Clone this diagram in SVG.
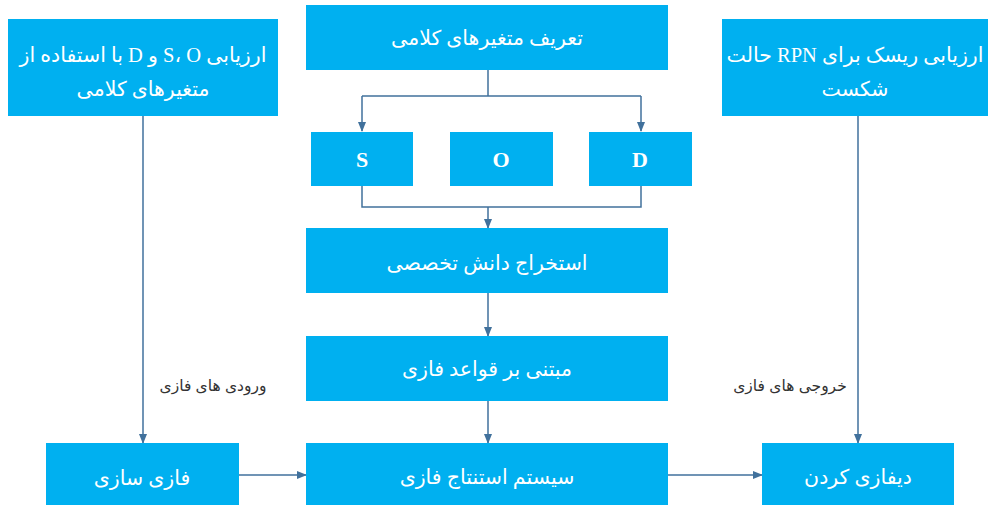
<svg xmlns="http://www.w3.org/2000/svg" width="990" height="507" viewBox="0 0 990 507">
<defs>
<marker id="ah" markerWidth="10" markerHeight="8" refX="9" refY="4" orient="auto" markerUnits="userSpaceOnUse">
<path d="M0,0 L10,4 L0,8 Z" fill="#41719c"/>
</marker>
<style>
.box{fill:#00b0f0;}
.t{font-family:"Liberation Serif","DejaVu Sans",serif;font-size:20.5px;fill:#ffffff;text-anchor:middle;direction:rtl;}
.l{font-family:"Liberation Sans","DejaVu Sans",sans-serif;font-size:15.5px;fill:#333333;text-anchor:middle;direction:rtl;}
.ltr{font-family:"Liberation Serif",serif;font-size:22px;font-weight:bold;fill:#ffffff;text-anchor:middle;}
.c{fill:none;stroke:#41719c;stroke-width:1.5;}
</style>
</defs>
<rect width="990" height="507" fill="#ffffff"/>
<g id="connectors">
<path class="c" d="M488,70 V96 M362,96 H641"/>
<path class="c" d="M362,96 V131" marker-end="url(#ah)"/>
<path class="c" d="M641,96 V131" marker-end="url(#ah)"/>
<path class="c" d="M362,186 V207 H641 V186"/>
<path class="c" d="M488,207 V228" marker-end="url(#ah)"/>
<path class="c" d="M488,293 V336" marker-end="url(#ah)"/>
<path class="c" d="M488,401 V443" marker-end="url(#ah)"/>
<path class="c" d="M143,116 V443" marker-end="url(#ah)"/>
<path class="c" d="M858,116 V443" marker-end="url(#ah)"/>
<path class="c" d="M239,475 H306" marker-end="url(#ah)"/>
<path class="c" d="M668,475 H762" marker-end="url(#ah)"/>
<text class="l" x="213" y="391">ورودی های فازی</text>
<text class="l" x="790" y="391">خروجی های فازی</text>
</g>
<g id="n-eval-sod">
<rect class="box" x="8" y="19" width="270" height="97"/>
<text class="t" x="143" y="62">ارزیابی S، O و D با استفاده از</text>
<text class="t" x="143" y="96">متغیرهای کلامی</text>
</g>
<g id="n-rpn">
<rect class="box" x="722" y="19" width="266" height="97"/>
<text class="t" x="855" y="62">ارزیابی ریسک برای RPN حالت</text>
<text class="t" x="855" y="96">شکست</text>
</g>
<g id="n-define">
<rect class="box" x="306" y="5" width="362" height="65"/>
<text class="t" x="487" y="45">تعریف متغیرهای کلامی</text>
</g>
<g id="n-s">
<rect class="box" x="311" y="132" width="102" height="54"/>
<text class="ltr" x="362" y="167">S</text>
</g>
<g id="n-o">
<rect class="box" x="450" y="132" width="103" height="54"/>
<text class="ltr" x="501" y="167">O</text>
</g>
<g id="n-d">
<rect class="box" x="589" y="132" width="103" height="54"/>
<text class="ltr" x="640" y="167">D</text>
</g>
<g id="n-extract">
<rect class="box" x="306" y="228" width="362" height="65"/>
<text class="t" x="487" y="270">استخراج دانش تخصصی</text>
</g>
<g id="n-rules">
<rect class="box" x="306" y="336" width="362" height="65"/>
<text class="t" x="487" y="376">مبتنی بر قواعد فازی</text>
</g>
<g id="n-inference">
<rect class="box" x="306" y="443" width="362" height="62"/>
<text class="t" x="487" y="484">سیستم استنتاج فازی</text>
</g>
<g id="n-fuzzify">
<rect class="box" x="46" y="443" width="193" height="62"/>
<text class="t" x="142" y="485">فازی سازی</text>
</g>
<g id="n-defuzzify">
<rect class="box" x="762" y="443" width="192" height="62"/>
<text class="t" x="858" y="484">دیفازی کردن</text>
</g>
</svg>
